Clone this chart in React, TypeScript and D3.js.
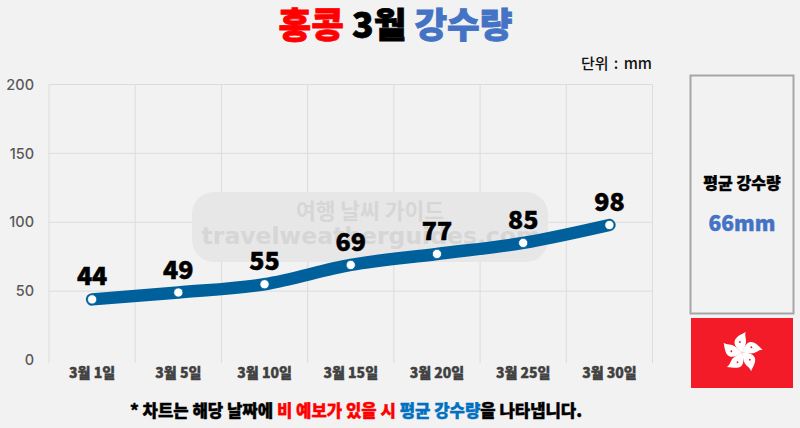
import { useEffect, useRef } from "react";
import * as d3 from "d3";

const days: string[] = ["3월 1일", "3월 5일", "3월 10일", "3월 15일", "3월 20일", "3월 25일", "3월 30일"];
const rainfall: number[] = [44, 49, 55, 69, 77, 85, 98];
const yTicks: number[] = [0, 50, 100, 150, 200];
const average = "66mm";

const width = 800;
const height = 428;
const margin = { top: 84.5, right: 147.5, bottom: 68, left: 49 };
const font = "'Noto Sans CJK KR', 'Noto Sans', sans-serif";

const App = () => {
    const svgRef = useRef<SVGSVGElement | null>(null);

    useEffect(() => {
        if (!svgRef.current) return;
        const svg = d3.select(svgRef.current);
        svg.selectAll("*").remove();

        svg.append("rect").attr("width", width).attr("height", height).attr("fill", "#f2f2f2");

        const x = d3.scaleBand<string>()
            .domain(days)
            .range([margin.left, width - margin.right]);
        const y = d3.scaleLinear()
            .domain([0, 200])
            .range([height - margin.bottom, margin.top]);

        // Title
        const title = svg.append("text")
            .attr("x", 395.5).attr("y", 37.5)
            .attr("text-anchor", "middle")
            .attr("font-family", font).attr("font-weight", 900).attr("font-size", 35.5)
            .attr("stroke-width", 0.8);
        title.append("tspan").attr("fill", "#ff0000").attr("stroke", "#ff0000").text("홍콩");
        title.append("tspan").attr("fill", "#000000").attr("stroke", "#000000").text(" 3월 ");
        title.append("tspan").attr("fill", "#4472c4").attr("stroke", "#4472c4").text("강수량");

        svg.append("text")
            .attr("x", 652).attr("y", 69)
            .attr("text-anchor", "end")
            .attr("font-family", font).attr("font-weight", 500).attr("font-size", 15)
            .attr("word-spacing", 2)
            .attr("fill", "#111").text("단위 : mm");

        // Grid
        const grid = svg.append("g").attr("stroke", "#dcdcdc").attr("stroke-width", 1);
        yTicks.filter(d => d > 0).forEach(d => {
            grid.append("line")
                .attr("x1", margin.left).attr("x2", width - margin.right)
                .attr("y1", y(d)).attr("y2", y(d));
        });
        [...days.map(d => x(d)!), width - margin.right].forEach(px => {
            grid.append("line")
                .attr("x1", px).attr("x2", px)
                .attr("y1", margin.top).attr("y2", height - margin.bottom + 3);
        });

        // Watermark
        svg.append("rect")
            .attr("x", 192).attr("y", 192).attr("width", 356).attr("height", 70).attr("rx", 22)
            .attr("fill", "#e7e7e7");
        svg.append("text")
            .attr("x", 370).attr("y", 219).attr("text-anchor", "middle")
            .attr("font-family", font).attr("font-weight", 700).attr("font-size", 21.5)
            .attr("fill", "#d6d6d6").text("여행 날씨 가이드");
        svg.append("text")
            .attr("x", 371).attr("y", 244).attr("text-anchor", "middle")
            .attr("font-family", "'DejaVu Sans', sans-serif").attr("font-weight", 700).attr("font-size", 23.5)
            .attr("fill", "#d6d6d6").text("travelweatherguides.com");

        // Axes
        const yAxis = svg.append("g")
            .attr("transform", `translate(${margin.left},0)`)
            .call(d3.axisLeft(y).tickValues(yTicks).tickSize(0).tickPadding(15));
        yAxis.select(".domain").remove();
        yAxis.selectAll("text")
            .attr("font-family", "Inter, sans-serif").attr("font-size", 14.5).attr("font-weight", 500)
            .attr("fill", "#595959");

        const xAxis = svg.append("g")
            .attr("transform", `translate(0,${height - margin.bottom})`)
            .call(d3.axisBottom(x).tickSize(0).tickPadding(8));
        xAxis.select(".domain").remove();
        xAxis.selectAll("text")
            .attr("font-family", font).attr("font-size", 14).attr("font-weight", 900)
            .attr("fill", "#404040")
            .attr("stroke", "#404040").attr("stroke-width", 0.4);

        // Line
        const cx = (_: number, i: number) => x(days[i])! + x.bandwidth() / 2;
        const line = d3.line<number>()
            .x(cx)
            .y(d => y(d))
            .curve(d3.curveMonotoneX);
        svg.append("path")
            .datum(rainfall)
            .attr("d", line)
            .attr("fill", "none")
            .attr("stroke", "#00609c")
            .attr("stroke-width", 12.5)
            .attr("stroke-linecap", "round")
            .attr("stroke-linejoin", "round");

        svg.append("g").selectAll("circle")
            .data(rainfall)
            .join("circle")
            .attr("cx", cx)
            .attr("cy", d => y(d))
            .attr("r", 4.6)
            .attr("fill", "#ffffff")
            .attr("stroke", "#00609c")
            .attr("stroke-width", 0.8);

        svg.append("g").selectAll("text")
            .data(rainfall)
            .join("text")
            .attr("x", cx)
            .attr("y", d => y(d) - 14)
            .attr("text-anchor", "middle")
            .attr("font-family", font).attr("font-weight", 900).attr("font-size", 25)
            .attr("fill", "#000")
            .attr("stroke", "#000").attr("stroke-width", 0.5)
            .text(d => d);

        // Average panel
        svg.append("rect")
            .attr("x", 690.5).attr("y", 75.5).attr("width", 103).attr("height", 238)
            .attr("fill", "none").attr("stroke", "#a6a6a6").attr("stroke-width", 2);
        svg.append("text")
            .attr("x", 742).attr("y", 189).attr("text-anchor", "middle")
            .attr("font-family", font).attr("font-weight", 900).attr("font-size", 16)
            .attr("fill", "#000")
            .attr("stroke", "#000").attr("stroke-width", 0.4)
            .text("평균 강수량");
        svg.append("text")
            .attr("x", 742).attr("y", 231).attr("text-anchor", "middle")
            .attr("font-family", font).attr("font-weight", 900).attr("font-size", 21)
            .attr("fill", "#4472c4")
            .attr("stroke", "#4472c4").attr("stroke-width", 0.4)
            .text(average);

        // Flag
        svg.append("rect")
            .attr("x", 691).attr("y", 318).attr("width", 102).attr("height", 70)
            .attr("fill", "#f21b27");
        const flag = svg.append("g").attr("transform", "translate(742,352.5) scale(1.05)");
        d3.range(5).forEach(i => {
            const petal = flag.append("g").attr("transform", `rotate(${i * 72})`);
            petal.append("path")
                .attr("d", "M0,0 C-4,-3 -8,-7 -7,-11 C-6,-15 -1,-17 3.5,-19.5 C2,-16 5,-12 3.5,-8 C2.5,-5 1,-2 0,0 Z")
                .attr("fill", "#ffffff");
            petal.append("circle").attr("cx", -2).attr("cy", -10).attr("r", 0.9).attr("fill", "#f21b27");
        });

        // Footnote
        const note = svg.append("text")
            .attr("x", 356).attr("y", 417)
            .attr("text-anchor", "middle")
            .attr("font-family", font).attr("font-weight", 900).attr("font-size", 16.7)
            .attr("stroke-width", 0.4);
        note.append("tspan").attr("fill", "#000").attr("stroke", "#000").text("* 차트는 해당 날짜에 ");
        note.append("tspan").attr("fill", "#ff0000").attr("stroke", "#ff0000").text("비 예보가 있을 시 ");
        note.append("tspan").attr("fill", "#0070c0").attr("stroke", "#0070c0").text("평균 강수량");
        note.append("tspan").attr("fill", "#000").attr("stroke", "#000").text("을 나타냅니다.");
    }, []);

    return (
        <svg
            ref={svgRef}
            width={width}
            height={height}
            style={{ position: "absolute", left: 0, top: 0 }}
        ></svg>
    );
};

export default App;
